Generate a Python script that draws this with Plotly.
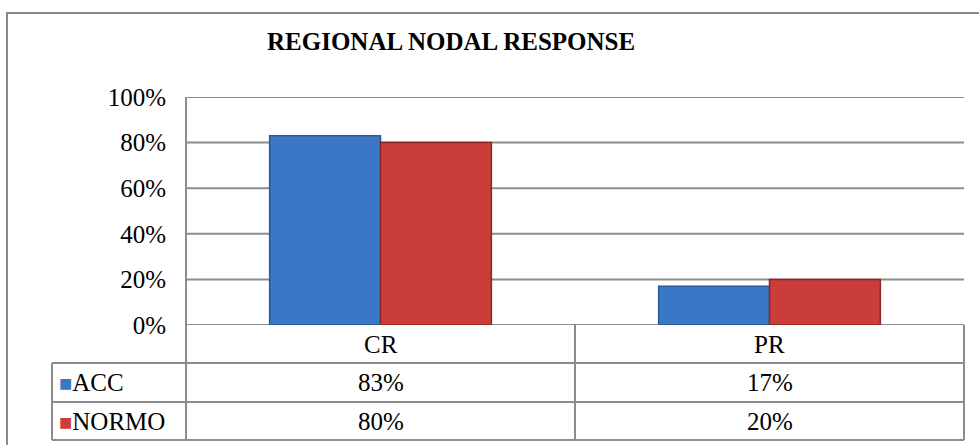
import plotly.graph_objects as go

# ---- data ----
categories = ["CR", "PR"]
series_names = ["ACC", "NORMO"]
acc_values = [0.83, 0.17]
normo_values = [0.80, 0.20]
y_tick_values = [0, 0.2, 0.4, 0.6, 0.8, 1.0]
y_tick_labels = ["0%", "20%", "40%", "60%", "80%", "100%"]
title_text = "REGIONAL NODAL RESPONSE"

# ---- style ----
W, H = 979, 445
FONT = "Liberation Serif, Times New Roman, serif"
FS = 25
BLUE, BLUE_EDGE = "#3A77C4", "#2A5A96"
RED, RED_EDGE = "#CB3D3A", "#8E2623"
GRID = "#8C8C8C"

def px_x(x):
    return x / W

def px_y(y):
    return (H - y) / H

plot_left, plot_right = 186, 964
plot_top, plot_bottom = 97, 325
row_lines = [363, 402, 440]
table_left = 52
col_div = 575

fig = go.Figure()
fig.add_trace(go.Bar(x=categories, y=acc_values, name=series_names[0],
                     marker=dict(color=BLUE, line=dict(color=BLUE_EDGE, width=1.5))))
fig.add_trace(go.Bar(x=categories, y=normo_values, name=series_names[1],
                     marker=dict(color=RED, line=dict(color=RED_EDGE, width=1.5))))

shapes = []
line_style = dict(color=GRID, width=2)
# outer chart border (right and bottom edges fall outside the page)
shapes.append(dict(type="rect", xref="paper", yref="paper",
                   x0=px_x(7), x1=px_x(990), y0=px_y(455), y1=px_y(13),
                   line=dict(color="#8A8A8A", width=2), layer="below"))
# horizontal gridlines at the tick values, limited to the plot area
for tv in y_tick_values:
    shapes.append(dict(type="line", xref="paper", yref="y",
                       x0=px_x(plot_left), x1=px_x(plot_right), y0=tv, y1=tv,
                       line=line_style, layer="below"))
# vertical axis line extended through the table
shapes.append(dict(type="line", xref="paper", yref="paper",
                   x0=px_x(plot_left), x1=px_x(plot_left), y0=px_y(plot_top), y1=px_y(row_lines[-1]),
                   line=line_style))
# table verticals
for xv, ytop in [(col_div, plot_bottom), (plot_right, plot_bottom), (table_left, row_lines[0])]:
    shapes.append(dict(type="line", xref="paper", yref="paper",
                       x0=px_x(xv), x1=px_x(xv), y0=px_y(ytop), y1=px_y(row_lines[-1]),
                       line=line_style))
# table horizontals
for yv in row_lines:
    shapes.append(dict(type="line", xref="paper", yref="paper",
                       x0=px_x(table_left), x1=px_x(plot_right), y0=px_y(yv), y1=px_y(yv),
                       line=line_style))

annotations = []
annotations.append(dict(text=f"<b>{title_text}</b>", xref="paper", yref="paper",
                        x=px_x(451), y=px_y(42), xanchor="center", yanchor="middle",
                        showarrow=False, font=dict(family=FONT, size=FS, color="black")))
header_y = (plot_bottom + row_lines[0]) / 2
row_ys = [(row_lines[0] + row_lines[1]) / 2, (row_lines[1] + row_lines[2]) / 2]
for c in categories:
    annotations.append(dict(text=c, xref="x", yref="paper", x=c, y=px_y(header_y),
                            xanchor="center", yanchor="middle",
                            showarrow=False, font=dict(family=FONT, size=FS, color="black")))
for vals, ry in zip([acc_values, normo_values], row_ys):
    for c, v in zip(categories, vals):
        annotations.append(dict(text=f"{round(v*100)}%", xref="x", yref="paper", x=c, y=px_y(ry),
                                xanchor="center", yanchor="middle",
                                showarrow=False, font=dict(family=FONT, size=FS, color="black")))
for name, col, ry in zip(series_names, [BLUE, RED], row_ys):
    annotations.append(dict(text=f"<span style='color:{col};font-size:22px'>■</span>{name}",
                            xref="paper", yref="paper", x=px_x(57), y=px_y(ry),
                            xanchor="left", yanchor="middle", showarrow=False,
                            font=dict(family=FONT, size=FS, color="black")))

fig.update_layout(
    width=W, height=H,
    margin=dict(l=0, r=0, t=0, b=0, pad=0, autoexpand=False),
    paper_bgcolor="white", plot_bgcolor="white",
    barmode="group", bargap=0.43, bargroupgap=0,
    showlegend=False,
    font=dict(family=FONT, size=FS, color="black"),
    xaxis=dict(domain=[px_x(plot_left), px_x(plot_right)], showticklabels=False,
               showgrid=False, zeroline=False, showline=False, fixedrange=True,
               automargin=False),
    yaxis=dict(domain=[px_y(plot_bottom), px_y(plot_top)], range=[0, 1],
               tickvals=y_tick_values, ticktext=y_tick_labels,
               showgrid=False, zeroline=False, showline=False, ticks="",
               ticklabelstandoff=19, automargin=False,
               tickfont=dict(family=FONT, size=FS, color="black")),
    shapes=shapes, annotations=annotations,
)

fig.write_html("out.html")
